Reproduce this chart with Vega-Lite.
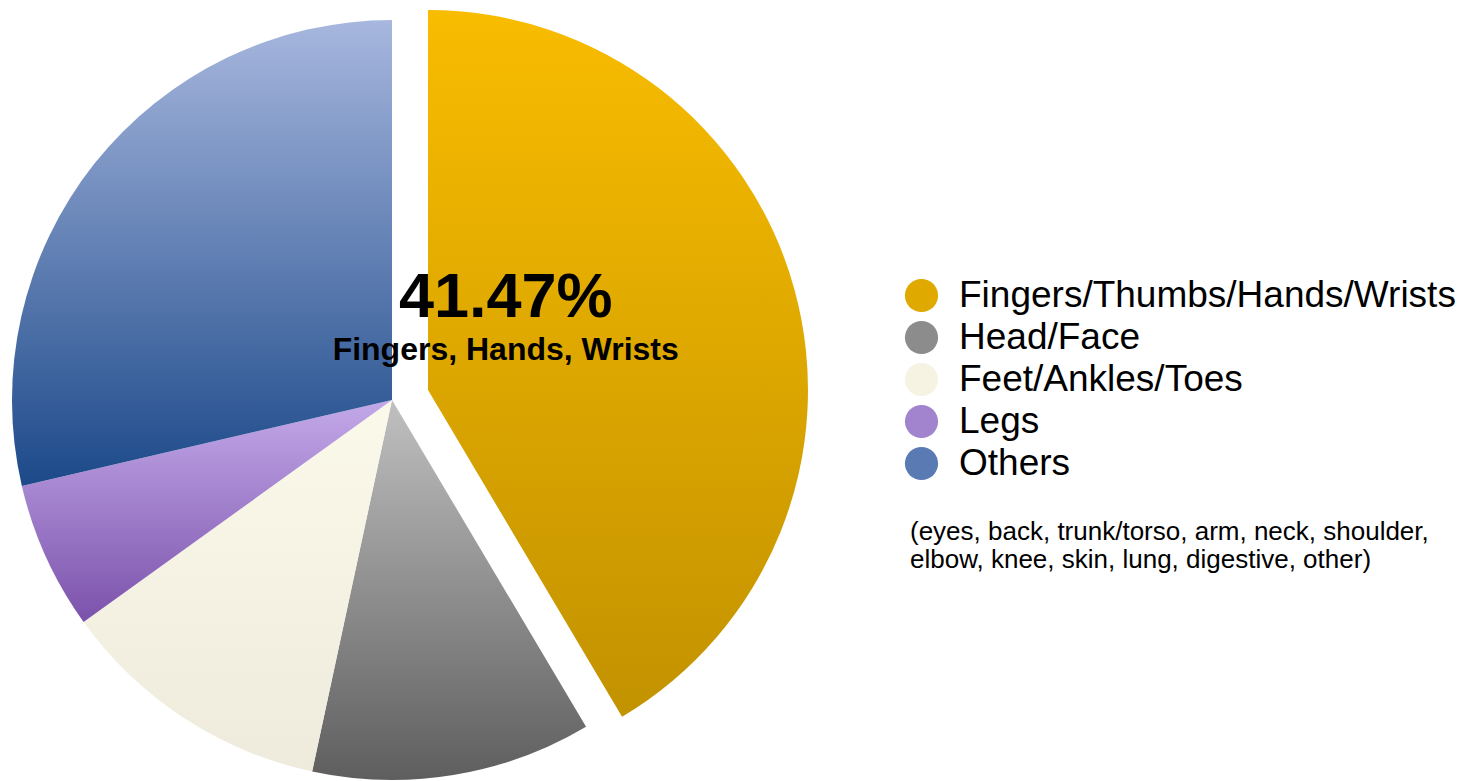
{
  "$schema": "https://vega.github.io/schema/vega-lite/v6.json",
  "width": 784,
  "height": 800,
  "padding": 0,
  "background": "white",
  "config": {"view": {"stroke": null}, "font": "Liberation Sans"},
  "data": {
    "values": [
      {"part": "Fingers/Thumbs/Hands/Wrists", "share": 0.4147, "rank": 1, "callout": "Fingers, Hands, Wrists"},
      {"part": "Head/Face", "share": 0.119, "rank": 2, "callout": ""},
      {"part": "Feet/Ankles/Toes", "share": 0.117, "rank": 3, "callout": ""},
      {"part": "Legs", "share": 0.063, "rank": 4, "callout": ""},
      {"part": "Others", "share": 0.2863, "rank": 5, "callout": ""}
    ]
  },
  "encoding": {
    "theta": {"field": "share", "type": "quantitative", "stack": true},
    "order": {"field": "rank", "type": "quantitative"}
  },
  "layer": [
    {
      "mark": {"type": "arc", "outerRadius": 380, "strokeWidth": 0},
      "encoding": {
        "fill": {
          "condition": [
            {"test": "datum.rank === 2", "value": {"gradient": "linear", "x1": 0, "y1": 0, "x2": 0, "y2": 1, "stops": [{"offset": 0, "color": "#C0C0C0"}, {"offset": 1, "color": "#5E5E5E"}]}},
            {"test": "datum.rank === 3", "value": {"gradient": "linear", "x1": 0, "y1": 0, "x2": 0, "y2": 1, "stops": [{"offset": 0, "color": "#FBF9EA"}, {"offset": 1, "color": "#EEEBDC"}]}},
            {"test": "datum.rank === 4", "value": {"gradient": "linear", "x1": 0, "y1": 0, "x2": 0, "y2": 1, "stops": [{"offset": 0, "color": "#C3A9E9"}, {"offset": 1, "color": "#7B52AB"}]}},
            {"test": "datum.rank === 5", "value": {"gradient": "linear", "x1": 0, "y1": 0, "x2": 0, "y2": 1, "stops": [{"offset": 0, "color": "#A7B7DE"}, {"offset": 1, "color": "#1C4989"}]}}
          ],
          "value": null
        }
      }
    },
    {
      "mark": {"type": "arc", "outerRadius": 380, "xOffset": 36, "yOffset": -10, "strokeWidth": 0},
      "encoding": {
        "fill": {
          "condition": {"test": "datum.rank === 1", "value": {"gradient": "linear", "x1": 0, "y1": 0, "x2": 0, "y2": 1, "stops": [{"offset": 0, "color": "#F8BC00"}, {"offset": 1, "color": "#C29200"}]}},
          "value": null
        }
      }
    },
    {
      "mark": {"type": "arc", "outerRadius": 0, "innerRadius": 0},
      "encoding": {
        "color": {
          "field": "part",
          "type": "nominal",
          "scale": {
            "domain": ["Fingers/Thumbs/Hands/Wrists", "Head/Face", "Feet/Ankles/Toes", "Legs", "Others"],
            "range": ["#E0A900", "#8C8C8C", "#F6F3E3", "#A283CE", "#5A7AB4"]
          },
          "legend": {
            "orient": "none",
            "legendX": 903,
            "legendY": 277,
            "title": ["(eyes, back, trunk/torso, arm, neck, shoulder,", "elbow, knee, skin, lung, digestive, other)"],
            "titleOrient": "bottom",
            "titleAnchor": "start",
            "titleFont": "Liberation Sans",
            "titleFontSize": 26,
            "titleFontWeight": "normal",
            "titleColor": "black",
            "titleLineHeight": 28,
            "titlePadding": 37,
            "titleLimit": 0,
            "labelFont": "Liberation Sans",
            "labelFontSize": 37,
            "labelColor": "black",
            "labelOffset": 19,
            "labelLimit": 0,
            "symbolType": "circle",
            "symbolSize": 1100,
            "symbolStrokeWidth": 0,
            "symbolOpacity": 1,
            "rowPadding": 4,
            "encode": {
              "title": {"update": {"dx": {"value": 7}}}
            }
          }
        }
      }
    },
    {
      "mark": {"type": "text", "radius": 120, "dx": -2, "dy": -51, "fontSize": 63, "fontWeight": "bold", "align": "center", "baseline": "alphabetic", "color": "black"},
      "encoding": {
        "text": {"field": "share", "type": "quantitative", "format": ".2%"},
        "opacity": {"condition": {"test": "datum.rank === 1", "value": 1}, "value": 0}
      }
    },
    {
      "mark": {"type": "text", "radius": 120, "dx": -2, "dy": -8, "fontSize": 32, "fontWeight": "bold", "align": "center", "baseline": "alphabetic", "color": "black"},
      "encoding": {
        "text": {"field": "callout", "type": "nominal"},
        "opacity": {"condition": {"test": "datum.rank === 1", "value": 1}, "value": 0}
      }
    }
  ]
}
